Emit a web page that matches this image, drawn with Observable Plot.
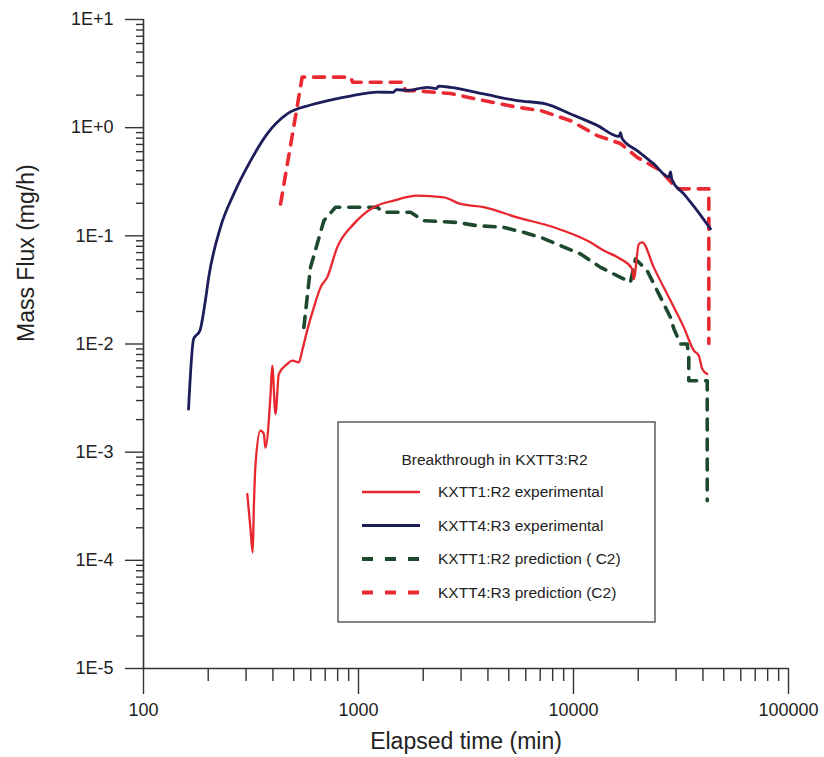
<!DOCTYPE html>
<html>
<head>
<meta charset="utf-8">
<script src="https://cdn.jsdelivr.net/npm/d3@7"></script>
<script src="https://cdn.jsdelivr.net/npm/@observablehq/plot@0.6"></script>
<style>
  html, body { margin: 0; padding: 0; background: #fff; }
  #chart { position: relative; width: 824px; height: 757px; }
</style>
</head>
<body>
<div id="chart"></div>
<script>
// ---- Data ----
// KXTT1:R2 experimental (red solid)
const r2ExpTime = [304, 315, 322, 326, 332, 350, 363, 369, 390, 397, 411, 426, 466, 492, 528, 547, 577, 620, 666, 715, 796, 951, 1178, 1460, 1875, 2493, 2981, 3827, 5472, 8095, 11990, 13830, 16540, 18750, 19070, 20130, 20870, 23620, 28250, 32600, 36300, 38280, 39700, 41880];
const r2ExpFlux = [0.00041, 0.000188, 0.000118, 0.000308, 0.000776, 0.00158, 0.00147, 0.0011, 0.00345, 0.0063, 0.00225, 0.00527, 0.00653, 0.00701, 0.00676, 0.00867, 0.0133, 0.0218, 0.0334, 0.0413, 0.0783, 0.129, 0.184, 0.212, 0.2355, 0.227, 0.197, 0.184, 0.148, 0.12, 0.0871, 0.073, 0.0611, 0.0494, 0.0399, 0.0841, 0.0871, 0.0511, 0.0252, 0.01425, 0.00867, 0.0078, 0.00587, 0.00527];

// KXTT4:R3 experimental (navy solid)
const r3ExpTime = [162, 171, 183, 194, 201, 228, 263, 315, 376, 466, 598, 796, 918, 1222, 1450, 1500, 1685, 2087, 2300, 2360, 2679, 3827, 5472, 7413, 9683, 12890, 16300, 16540, 16800, 19780, 23620, 27800, 28250, 28700, 32600, 37600, 43350];
const r3ExpFlux = [0.0025, 0.0111, 0.0133, 0.0252, 0.0413, 0.12, 0.244, 0.496, 0.877, 1.34, 1.62, 1.86, 1.96, 2.13, 2.12, 2.25, 2.21, 2.36, 2.3, 2.42, 2.36, 2.05, 1.78, 1.66, 1.34, 1.05, 0.83, 0.9, 0.8, 0.614, 0.463, 0.35, 0.39, 0.33, 0.244, 0.171, 0.116];

// KXTT1:R2 prediction (C2) (dark green dashed)
const r2PredTime = [557, 598, 690, 782, 1222, 1307, 1746, 2006, 2878, 3566, 4724, 5852, 7030, 10790, 13360, 16540, 18410, 19420, 22010, 25400, 28250, 29300, 31460, 33800, 34370, 34370, 41880, 41880];
const r2PredFlux = [0.01425, 0.0511, 0.138, 0.184, 0.184, 0.165, 0.165, 0.138, 0.133, 0.124, 0.12, 0.1077, 0.0969, 0.068, 0.0511, 0.0413, 0.0372, 0.0611, 0.0476, 0.027, 0.0176, 0.0138, 0.01, 0.01, 0.00752, 0.00458, 0.00458, 0.000355];

// KXTT4:R3 prediction (C2) (red dashed)
const r3PredTime = [434, 547, 918, 940, 1620, 1650, 1803, 2679, 3827, 5472, 7030, 9683, 12890, 16540, 19780, 25400, 30350, 42600, 42600];
const r3PredFlux = [0.197, 2.93, 2.93, 2.63, 2.63, 2.2, 2.2, 2.07, 1.78, 1.545, 1.44, 1.16, 0.845, 0.713, 0.532, 0.401, 0.272, 0.272, 0.0101];

// Axis ticks
const xMajorTicks = [100, 1000, 10000, 100000];
const xMajorLabels = ["100", "1000", "10000", "100000"];
const xMinorTicks = [200, 300, 400, 500, 600, 700, 800, 900, 2000, 3000, 4000, 5000, 6000, 7000, 8000, 9000, 20000, 30000, 40000, 50000, 60000, 70000, 80000, 90000];
const yMajorTicks = [1e-5, 1e-4, 1e-3, 1e-2, 1e-1, 1, 10];
const yMajorLabels = ["1E-5", "1E-4", "1E-3", "1E-2", "1E-1", "1E+0", "1E+1"];
const yMinorTicks = [];
for (const p of [1e-5, 1e-4, 1e-3, 1e-2, 1e-1, 1]) for (const m of [2, 3, 4, 5, 6, 7, 8, 9]) yMinorTicks.push(+(m * p).toPrecision(3));

// Legend
const legendTitle = "Breakthrough in KXTT3:R2";
const seriesNames = ["KXTT1:R2 experimental", "KXTT4:R3 experimental", "KXTT1:R2 prediction ( C2)", "KXTT4:R3 prediction (C2)"];
const seriesColors = ["#e8262d", "#1e1d5c", "#1d4a2f", "#ea2a33"];
const seriesDash = [null, null, "11,9", "11,9"];
const seriesWidth = [2.3, 2.8, 3.6, 3.6];

const xTitle = "Elapsed time (min)";
const yTitle = "Mass Flux (mg/h)";

const toRows = (t, f) => t.map((d, i) => ({t: d, f: f[i]}));
const seriesData = [toRows(r2ExpTime, r2ExpFlux), toRows(r3ExpTime, r3ExpFlux), toRows(r2PredTime, r2PredFlux), toRows(r3PredTime, r3PredFlux)];

const xLabelOf = (d) => xMajorLabels[xMajorTicks.findIndex((v) => Math.abs(Math.log10(v) - Math.log10(d)) < 1e-6)];
const yLabelOf = (d) => yMajorLabels[yMajorTicks.findIndex((v) => Math.abs(Math.log10(v) - Math.log10(d)) < 1e-6)];

const axisColor = "#333";
const font = "'Liberation Sans', Arial, Helvetica, sans-serif";

const chart = Plot.plot({
  width: 824,
  height: 757,
  marginLeft: 143,
  marginRight: 36,
  marginTop: 19,
  marginBottom: 89,
  x: {type: "log", domain: [100, 100000]},
  y: {type: "log", domain: [1e-5, 10]},
  style: {fontFamily: font, background: "#fff", color: "#222", overflow: "visible"},
  marks: [
    // axis lines
    Plot.ruleX([xMajorTicks[0]], {y1: yMajorTicks[0], y2: yMajorTicks[yMajorTicks.length - 1], stroke: axisColor, strokeWidth: 1.6}),
    Plot.ruleY([yMajorTicks[0]], {x1: xMajorTicks[0], x2: xMajorTicks[xMajorTicks.length - 1], stroke: axisColor, strokeWidth: 1.6}),
    // x axis
    Plot.axisX(xMinorTicks, {tickSize: 13, tickFormat: () => "", label: null, stroke: axisColor, strokeWidth: 1.4}),
    Plot.axisX(xMajorTicks, {tickSize: 26, tickPadding: 9, tickFormat: xLabelOf, fontSize: 18, label: null, stroke: axisColor, strokeWidth: 1.4}),
    // y axis
    Plot.axisY(yMinorTicks, {tickSize: 7, tickFormat: () => "", label: null, stroke: axisColor, strokeWidth: 1.4}),
    Plot.axisY(yMajorTicks, {tickSize: 18, tickPadding: 12, tickFormat: yLabelOf, fontSize: 18, label: null, stroke: axisColor, strokeWidth: 1.4}),
    // titles
    Plot.text([xTitle], {frameAnchor: "bottom", lineAnchor: "middle", dy: 73, fontSize: 23, fill: "#222"}),
    Plot.text([yTitle], {frameAnchor: "left", lineAnchor: "middle", rotate: -90, dx: -117, dy: -2, fontSize: 23, fill: "#222"}),
    // series
    Plot.line(seriesData[3], {x: "t", y: "f", stroke: seriesColors[3], strokeWidth: seriesWidth[3], strokeDasharray: seriesDash[3], curve: "linear"}),
    Plot.line(seriesData[2], {x: "t", y: "f", stroke: seriesColors[2], strokeWidth: seriesWidth[2], strokeDasharray: seriesDash[2], curve: "linear"}),
    Plot.line(seriesData[0], {x: "t", y: "f", stroke: seriesColors[0], strokeWidth: seriesWidth[0], curve: "monotone-x"}),
    Plot.line(seriesData[1], {x: "t", y: "f", stroke: seriesColors[1], strokeWidth: seriesWidth[1], curve: "monotone-x"})
  ]
});

document.getElementById("chart").appendChild(chart);

// Legend box drawn inside the plot area
const svg = d3.select(chart);
const lg = svg.append("g").attr("font-family", font).attr("fill", "#222").attr("text-anchor", "start");
const box = {x: 338, y: 422, w: 317, h: 200};
lg.append("rect").attr("x", box.x).attr("y", box.y).attr("width", box.w).attr("height", box.h)
  .attr("fill", "#fff").attr("stroke", "#444").attr("stroke-width", 1.3);
lg.append("text").attr("x", box.x + box.w / 2 - 2).attr("y", box.y + 38).attr("dy", "0.35em")
  .attr("text-anchor", "middle").attr("font-size", 15.5).text(legendTitle);
seriesNames.forEach((name, i) => {
  const cy = box.y + 70 + i * 33.5;
  lg.append("line").attr("x1", box.x + 24).attr("x2", box.x + 82).attr("y1", cy).attr("y2", cy)
    .attr("stroke", seriesColors[i]).attr("stroke-width", seriesWidth[i] + 0.4)
    .attr("stroke-dasharray", seriesDash[i] ? "11,12" : null);
  lg.append("text").attr("x", box.x + 100).attr("y", cy).attr("dy", "0.35em")
    .attr("text-anchor", "start").attr("font-size", 15.5).text(name);
});
</script>
</body>
</html>
